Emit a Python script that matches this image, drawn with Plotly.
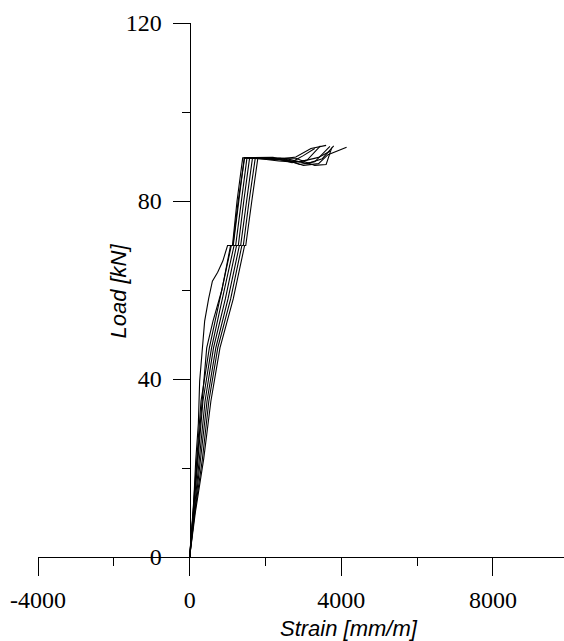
import plotly.graph_objects as go

# Load-strain records from eight strain gauges (strain in mm/m x 1000, load in kN)
strain_g1 = [0, 95, 160, 230, 264, 330, 396, 500, 600, 740, 875, 1000, 1130, 1250, 1400,
             2200, 2700, 3100, 3450]
load_g1 = [0, 10, 21.6, 30, 39.5, 47, 53, 58, 62, 64, 66.5, 70, 70, 80, 89.7,
           89.8, 88.6, 89.2, 92.4]

strain_g2 = [0, 100, 200, 300, 370, 450, 616, 850, 1080, 1140, 1280, 1450,
             2400, 2900, 3300, 3700]
load_g2 = [0, 10, 21.6, 32, 39.5, 47, 53, 60, 70, 70, 80, 89.7,
           89.6, 88.2, 88.8, 92.3]

strain_g3 = [0, 90, 190, 300, 520, 800, 1100, 1150, 1290, 1440,
             2300, 2800, 3200, 3600]
load_g3 = [0, 10, 22, 35, 47, 58, 70, 70, 80, 89.7,
           89.3, 89.9, 91.8, 92.5]

strain_g4 = [0, 104, 224, 350, 578, 868, 1172, 1214, 1362, 1512,
             2500, 3000, 3400, 3650, 4140]
load_g4 = [0, 10, 22, 35, 47, 58, 70, 70, 80, 89.7,
           89.5, 88.0, 88.4, 90.4, 92.1]

strain_g5 = [0, 112, 264, 406, 630, 942, 1238, 1284, 1428, 1582,
             2600, 3100, 3500, 3800]
load_g5 = [0, 10, 22, 35, 47, 58, 70, 70, 80, 89.7,
           89.4, 88.4, 89.5, 92.4]

strain_g6 = [0, 128, 296, 458, 690, 1012, 1312, 1346, 1502, 1658,
             2350, 2700, 3000, 3300]
load_g6 = [0, 10, 22, 35, 47, 58, 70, 70, 80, 89.7,
           89.0, 88.8, 90.2, 91.8]

strain_g7 = [0, 136, 336, 506, 742, 1082, 1378, 1416, 1568, 1732,
             2800, 3300, 3600, 3750]
load_g7 = [0, 10, 22, 35, 47, 58, 70, 70, 80, 89.7,
           89.6, 88.0, 88.2, 92.0]

strain_g8 = [0, 150, 370, 560, 800, 1150, 1450, 1480, 1640, 1800,
             2900, 3400, 3700]
load_g8 = [0, 10, 22, 35, 47, 58, 70, 70, 80, 89.7,
           88.8, 89.8, 91.2]

x_ticks = [-4000, 0, 4000, 8000]
x_tick_labels = ["-4000", "0", "4000", "8000"]
x_minor_ticks = [-2000, 2000, 6000]
y_ticks = [0, 40, 80, 120]
y_tick_labels = ["0", "40", "80", "120"]
y_minor_ticks = [20, 60, 100]

gauges = [
    (strain_g1, load_g1), (strain_g2, load_g2), (strain_g3, load_g3),
    (strain_g4, load_g4), (strain_g5, load_g5), (strain_g6, load_g6),
    (strain_g7, load_g7), (strain_g8, load_g8),
]

fig = go.Figure()
for sx, ly in gauges:
    fig.add_trace(go.Scatter(x=sx, y=ly, mode="lines",
                             line=dict(color="black", width=1.1),
                             showlegend=False, hoverinfo="skip"))

x_min, x_max = -4000, 9875
tick_font = dict(family="Liberation Serif", size=24, color="black")
title_font = dict(family="Liberation Sans", size=22, color="black", style="italic")

fig.update_layout(
    width=564, height=641, autosize=False,
    margin=dict(l=38, r=0, t=23, b=84),
    paper_bgcolor="white", plot_bgcolor="white",
    xaxis=dict(
        range=[x_min, x_max], showgrid=False, zeroline=False,
        showline=True, linecolor="black", linewidth=1,
        tickmode="array", tickvals=x_ticks, ticktext=x_tick_labels,
        ticks="outside", ticklen=18, tickwidth=1, tickcolor="black",
        tickfont=tick_font, ticklabelstandoff=3,
        minor=dict(tickmode="array", tickvals=x_minor_ticks, ticks="outside",
                   ticklen=8, tickwidth=1, tickcolor="black", showgrid=False),
        anchor="y",
    ),
    yaxis=dict(
        range=[0, 120], showgrid=False, zeroline=False,
        showline=True, linecolor="black", linewidth=1,
        tickmode="array", tickvals=y_ticks, ticktext=y_tick_labels,
        ticks="outside", ticklen=17, tickwidth=1, tickcolor="black",
        tickfont=tick_font, ticklabelstandoff=6,
        minor=dict(tickmode="array", tickvals=y_minor_ticks, ticks="outside",
                   ticklen=8, tickwidth=1, tickcolor="black", showgrid=False),
        anchor="free", position=(0 - x_min) / (x_max - x_min),
    ),
    annotations=[
        dict(text="Strain [mm/m]", xref="paper", yref="paper",
             x=0.591, y=-0.134, xanchor="center", yanchor="middle",
             showarrow=False, font=title_font),
        dict(text="Load [kN]", xref="paper", yref="paper",
             x=0.153, y=0.498, xanchor="center", yanchor="middle",
             textangle=-90, showarrow=False, font=title_font),
    ],
)

fig.write_html("out.html")
